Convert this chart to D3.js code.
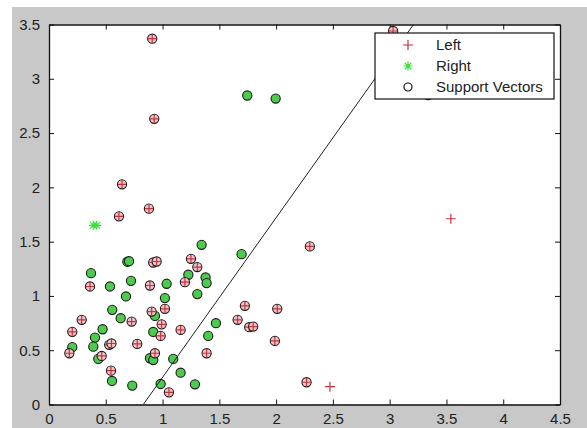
<!DOCTYPE html>
<html>
<head>
<meta charset="utf-8">
<script src="https://cdn.jsdelivr.net/npm/d3@7.9.0/dist/d3.min.js"></script>
<style>
  body { margin: 0; background: #fff; }
  svg { display: block; font-family: Arial, "Liberation Sans", sans-serif; }
</style>
</head>
<body>
<svg width="587" height="428"></svg>
<script>
// class "Left" (red +), points that are support vectors
const leftSupport = [
  [0.909, 3.369], [0.927, 2.631], [0.643, 2.028], [0.88, 1.804], [0.616, 1.733],
  [0.918, 1.308], [0.948, 1.317], [0.361, 1.087], [0.889, 1.096], [1.25, 1.342],
  [1.306, 1.266], [1.197, 1.127], [1.021, 0.881], [0.904, 0.856], [0.992, 0.738],
  [0.983, 0.632], [1.159, 0.687], [0.728, 0.764], [0.288, 0.78], [0.205, 0.669],
  [0.179, 0.472], [0.53, 0.55], [0.55, 0.562], [0.777, 0.558], [0.464, 0.447],
  [0.546, 0.312], [0.933, 0.472], [1.388, 0.472], [1.056, 0.112], [1.725, 0.909],
  [1.661, 0.78], [1.763, 0.712], [1.798, 0.718], [2.01, 0.881], [1.989, 0.586],
  [2.297, 1.456], [2.268, 0.205], [3.03, 3.44], [3.34, 2.85]
];
// class "Left", not support vectors
const leftOther = [[2.474, 0.164], [3.539, 1.711]];

// class "Right" (green *), support vectors
const rightSupport = [
  [1.746, 2.846], [1.996, 2.818], [0.69, 1.315], [0.705, 1.32], [0.37, 1.21],
  [0.722, 1.139], [0.537, 1.087], [0.678, 0.995], [0.557, 0.872], [0.631, 0.795],
  [0.472, 0.693], [0.933, 0.816], [0.405, 0.616], [0.918, 0.668], [1.344, 1.471],
  [1.696, 1.385], [1.227, 1.195], [1.379, 1.17], [1.388, 1.118], [1.036, 1.112],
  [1.306, 1.017], [1.021, 0.98], [1.47, 0.749], [1.402, 0.632], [0.205, 0.528],
  [0.39, 0.533], [0.434, 0.42], [0.555, 0.217], [0.733, 0.174], [0.889, 0.426],
  [0.918, 0.41], [1.094, 0.42], [1.159, 0.293], [0.983, 0.189], [1.285, 0.186]
];
const rightOther = [[0.39, 1.65], [0.42, 1.65]];

// separating line
const boundary = [[0.83, 0], [3.21, 3.5]];

const xTicks = [0, 0.5, 1, 1.5, 2, 2.5, 3, 3.5, 4, 4.5];
const yTicks = [0, 0.5, 1, 1.5, 2, 2.5, 3, 3.5];
const legendLabels = ['Left', 'Right', 'Support Vectors'];

const red = '#c8323c';
const pink = '#f2c4c8';
const green = '#4ccb4c';
const star = '#3be03b';

const svg = d3.select('svg');
const axL = 49, axR = 560, axT = 24.5, axB = 404.5;

const x = d3.scaleLinear().domain([0, 4.5]).range([axL, axR]);
const y = d3.scaleLinear().domain([0, 3.5]).range([axB, axT]);

// figure background
svg.append('rect')
  .attr('x', 12).attr('y', 7)
  .attr('width', 575).attr('height', 421)
  .attr('fill', '#c8c8c8');

svg.append('rect')
  .attr('x', axL).attr('y', axT)
  .attr('width', axR - axL).attr('height', axB - axT)
  .attr('fill', '#fff');

// axes, ticks inward on all sides
const tickLen = 5;
svg.append('g')
  .attr('transform', `translate(0,${axB})`)
  .call(d3.axisBottom(x).tickValues(xTicks).tickSizeInner(-tickLen).tickSizeOuter(0).tickPadding(9).tickFormat(d3.format('')));
svg.append('g')
  .attr('transform', `translate(0,${axT})`)
  .call(d3.axisTop(x).tickValues(xTicks).tickSizeInner(-tickLen).tickSizeOuter(0).tickFormat(''));
svg.append('g')
  .attr('transform', `translate(${axL},0)`)
  .call(d3.axisLeft(y).tickValues(yTicks).tickSizeInner(-tickLen).tickSizeOuter(0).tickPadding(9).tickFormat(d3.format('')));
svg.append('g')
  .attr('transform', `translate(${axR},0)`)
  .call(d3.axisRight(y).tickValues(yTicks).tickSizeInner(-tickLen).tickSizeOuter(0).tickFormat(''));

svg.selectAll('.domain').attr('stroke', '#111').attr('stroke-width', 1.3);
svg.selectAll('.tick line').attr('stroke', '#111');
svg.selectAll('.tick text')
  .attr('font-size', 15)
  .attr('font-family', 'Arial, "Liberation Sans", sans-serif')
  .attr('fill', '#222');

const plot = svg.append('g');

function plus(g, px, py, s, color) {
  g.append('path')
    .attr('d', `M${px - s},${py}H${px + s}M${px},${py - s}V${py + s}`)
    .attr('stroke', color).attr('stroke-width', 1.2).attr('fill', 'none');
}
function asterisk(g, px, py, s, color) {
  const d = s * 0.72;
  g.append('path')
    .attr('d', `M${px - s},${py}H${px + s}M${px},${py - s}V${py + s}M${px - d},${py - d}L${px + d},${py + d}M${px - d},${py + d}L${px + d},${py - d}`)
    .attr('stroke', color).attr('stroke-width', 1.2).attr('fill', 'none');
}

rightSupport.forEach(([a, b]) => {
  plot.append('circle')
    .attr('cx', x(a)).attr('cy', y(b)).attr('r', 4.6)
    .attr('fill', green).attr('stroke', '#1a1a1a').attr('stroke-width', 1.1);
});
rightOther.forEach(([a, b]) => asterisk(plot, x(a), y(b), 4.5, star));

leftSupport.forEach(([a, b]) => {
  plot.append('circle')
    .attr('cx', x(a)).attr('cy', y(b)).attr('r', 4.6)
    .attr('fill', pink).attr('stroke', '#1a1a1a').attr('stroke-width', 1.1);
  plus(plot, x(a), y(b), 4, red);
});
leftOther.forEach(([a, b]) => plus(plot, x(a), y(b), 5, red));

plot.append('path')
  .datum(boundary)
  .attr('d', d3.line().x(d => x(d[0])).y(d => y(d[1])))
  .attr('stroke', '#222').attr('stroke-width', 1).attr('fill', 'none');

// legend
const lg = svg.append('g').attr('transform', 'translate(375,33)');
lg.append('rect')
  .attr('width', 179).attr('height', 66)
  .attr('fill', '#fff').attr('stroke', '#111').attr('stroke-width', 1.2);

legendLabels.forEach((label, i) => {
  const cy = 12 + i * 21;
  if (i === 0) plus(lg, 33, cy, 5, red);
  if (i === 1) asterisk(lg, 33, cy, 4.5, star);
  if (i === 2) {
    lg.append('circle').attr('cx', 33).attr('cy', cy).attr('r', 4)
      .attr('fill', 'none').attr('stroke', '#111').attr('stroke-width', 1.2);
  }
  lg.append('text')
    .attr('x', 61).attr('y', cy)
    .attr('dy', '0.35em')
    .attr('font-size', 15)
    .attr('fill', '#222')
    .text(label);
});
</script>
</body>
</html>
